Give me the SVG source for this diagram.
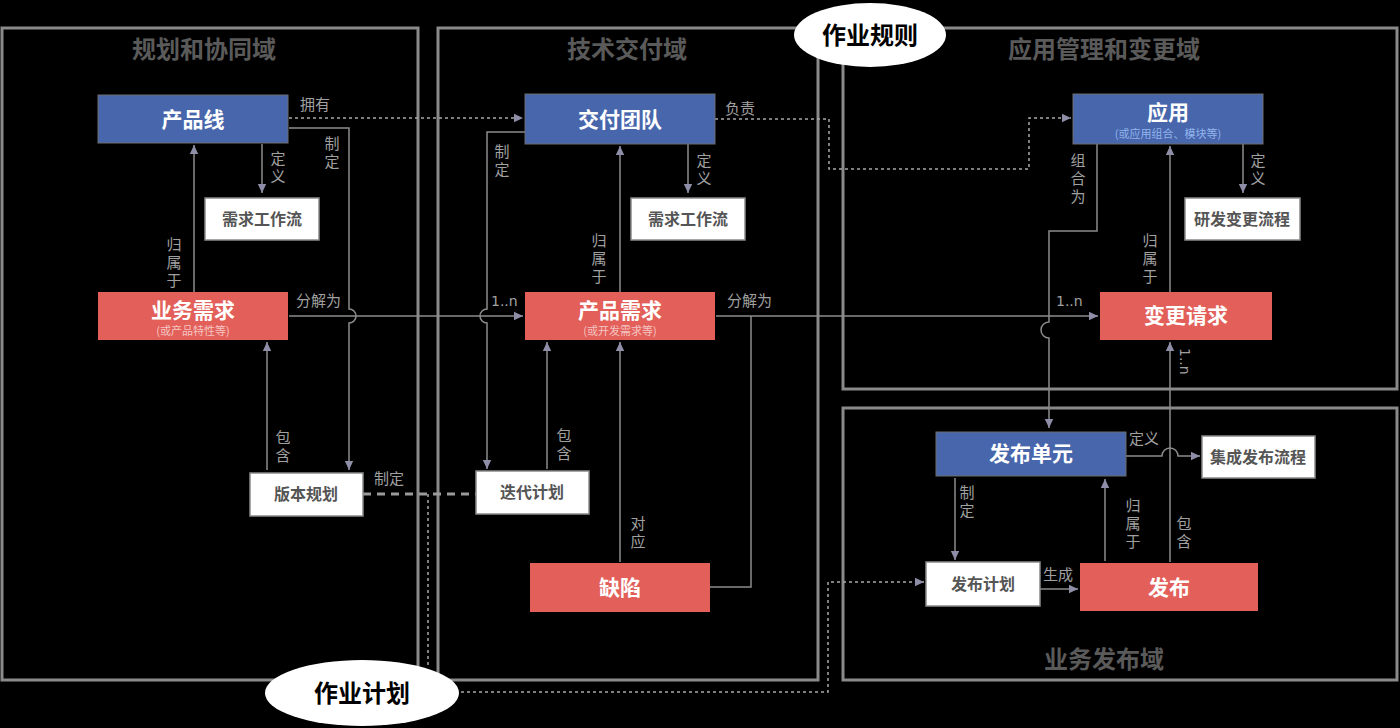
<svg xmlns="http://www.w3.org/2000/svg" width="1400" height="728" viewBox="0 0 1400 728">
<style>
text{font-family:"Noto Sans CJK SC","Noto Sans",sans-serif}
.dom{fill:none;stroke:#8a8a8a;stroke-width:3}
.dt{fill:#5a5a5a;font-size:24px;font-weight:700;text-anchor:middle}
.blue{fill:#4766ab;stroke:#6d6d6d;stroke-width:1}
.red{fill:#e25f5a;stroke:none}
.wb{fill:#fff;stroke:#8a8a8a;stroke-width:1.5}
.nt{fill:#fff;font-size:21px;font-weight:700;text-anchor:middle}
.wt{fill:#555;font-size:16px;font-weight:700;text-anchor:middle}
.sub{font-size:11px;text-anchor:middle}
.lb{fill:#a0a0a0;font-size:15px}
.v{writing-mode:vertical-rl;letter-spacing:3px}
.c{fill:none;stroke:#8c8c8c;stroke-width:1.5}
.dot{fill:none;stroke:#a8a8a8;stroke-width:1.5;stroke-dasharray:3 3}
.ell{fill:#fff;stroke:none}
.et{fill:#000;font-size:24px;font-weight:700;text-anchor:middle}
</style>
<defs>
<marker id="a" markerUnits="userSpaceOnUse" markerWidth="10" markerHeight="10" refX="9" refY="5" orient="auto">
<path d="M0,0.8 L9,5 L0,9.2 Z" fill="#8e8ea8"/>
</marker>
</defs>
<rect width="1400" height="728" fill="#000"/>

<g id="domains">
<rect class="dom" x="2" y="28" width="416" height="652"/>
<text class="dt" x="204" y="58">规划和协同域</text>
<rect class="dom" x="438" y="28" width="380" height="652"/>
<text class="dt" x="627" y="58">技术交付域</text>
<rect class="dom" x="843" y="28" width="554" height="361"/>
<text class="dt" x="1104" y="58">应用管理和变更域</text>
<rect class="dom" x="843" y="408" width="554" height="272"/>
<text class="dt" x="1104" y="668">业务发布域</text>
</g>

<g id="connectors">
<path class="c" d="M262,144 V193" marker-end="url(#a)"/>
<path class="c" d="M194,292 V145" marker-end="url(#a)"/>
<path class="c" d="M289,128 H349 V309 A7,7 0 0 1 349,323 V470" marker-end="url(#a)"/>
<path class="c" d="M267,470 V342" marker-end="url(#a)"/>
<path class="c" d="M289,316 H523" marker-end="url(#a)"/>
<path class="c" d="M525,132 H487 V309 A7,7 0 0 0 487,323 V469" marker-end="url(#a)"/>
<path class="c" d="M620,292 V146" marker-end="url(#a)"/>
<path class="c" d="M688,144 V193" marker-end="url(#a)"/>
<path class="c" d="M547,469 V342" marker-end="url(#a)"/>
<path class="c" d="M620,562 V342" marker-end="url(#a)"/>
<path class="c" d="M716,316 H1098" marker-end="url(#a)"/>
<path class="c" d="M710,587 H751 V316"/>
<path class="c" d="M1097,144 V231 H1049 V322 A8,8 0 0 0 1049,338 V428" marker-end="url(#a)"/>
<path class="c" d="M1243,144 V193" marker-end="url(#a)"/>
<path class="c" d="M1170,292 V146" marker-end="url(#a)"/>
<path class="c" d="M1170,562 V342" marker-end="url(#a)"/>
<path class="c" d="M1126,456 H1162 A8,8 0 0 1 1178,456 H1200" marker-end="url(#a)"/>
<path class="c" d="M955,478 V560" marker-end="url(#a)"/>
<path class="c" d="M1105,561 V479" marker-end="url(#a)"/>
<path class="c" d="M1040,589 H1078" marker-end="url(#a)"/>
<path class="dot" d="M289,118 H523" marker-end="url(#a)"/>
<path class="dot" d="M715,119 H829 V169 H1029 V118 H1071" marker-end="url(#a)"/>
<path d="M363,494 H476" fill="none" stroke="#9a9a9a" stroke-width="3" stroke-dasharray="8 6"/>
<path class="dot" d="M428,494 V668"/>
<path class="dot" d="M455,692 H828 V582 H924" marker-end="url(#a)"/>
<path d="M525,137 L682,94" stroke="#111" stroke-width="1.5" stroke-dasharray="4 3" fill="none"/>
<path d="M1100,308 L1125,339" stroke="#111" stroke-width="1.5" stroke-dasharray="3 3" fill="none"/>
<text class="lb" x="300" y="110">拥有</text>
<text class="lb" x="725" y="114">负责</text>
<text class="lb v" x="278" y="151">定义</text>
<text class="lb v" x="332" y="136">制定</text>
<text class="lb v" x="174" y="237">归属于</text>
<text class="lb v" x="283" y="430">包含</text>
<text class="lb" x="296" y="306">分解为</text>
<text class="lb" x="374" y="484">制定</text>
<text class="lb v" x="502" y="144">制定</text>
<text class="lb v" x="599" y="233">归属于</text>
<text class="lb v" x="704" y="153">定义</text>
<text class="lb" x="491" y="306" style="font-family:'DejaVu Sans',sans-serif;font-size:14px">1..n</text>
<text class="lb" x="727" y="306">分解为</text>
<text class="lb v" x="564" y="428">包含</text>
<text class="lb v" x="638" y="516">对应</text>
<text class="lb v" x="1078" y="153">组合为</text>
<text class="lb v" x="1258" y="153">定义</text>
<text class="lb v" x="1150" y="233">归属于</text>
<text class="lb" x="1056" y="306" style="font-family:'DejaVu Sans',sans-serif;font-size:14px">1..n</text>
<text class="lb" transform="translate(1180,348) rotate(90)" style="font-family:'DejaVu Sans',sans-serif;font-size:14px">1..n</text>
<text class="lb" x="1129" y="444">定义</text>
<text class="lb v" x="967" y="485">制定</text>
<text class="lb v" x="1133" y="498">归属于</text>
<text class="lb v" x="1184" y="516">包含</text>
<text class="lb" x="1043" y="580">生成</text>
</g>

<g id="n-chanpinxian"><rect class="blue" x="98" y="95" width="190" height="48"/><text class="nt" x="193" y="127">产品线</text></g>
<g id="n-xqgzl1"><rect class="wb" x="205" y="198" width="114" height="42"/><text class="wt" x="262" y="225">需求工作流</text></g>
<g id="n-ywxq"><rect class="red" x="98" y="292" width="190" height="48"/><text class="nt" x="193" y="318">业务需求</text><text class="sub" x="193" y="335" fill="#f6c6c3">(或产品特性等)</text></g>
<g id="n-bbgh"><rect class="wb" x="250" y="473" width="113" height="43"/><text class="wt" x="306" y="500">版本规划</text></g>

<g id="n-jftd"><rect class="blue" x="525" y="94" width="190" height="50"/><text class="nt" x="620" y="127">交付团队</text></g>
<g id="n-xqgzl2"><rect class="wb" x="631" y="198" width="114" height="42"/><text class="wt" x="688" y="225">需求工作流</text></g>
<g id="n-cpxq"><rect class="red" x="525" y="292" width="190" height="48"/><text class="nt" x="620" y="318">产品需求</text><text class="sub" x="620" y="335" fill="#f6c6c3">(或开发需求等)</text></g>
<g id="n-ddjh"><rect class="wb" x="476" y="471" width="113" height="43"/><text class="wt" x="532" y="498">迭代计划</text></g>
<g id="n-qx"><rect class="red" x="530" y="563" width="180" height="49"/><text class="nt" x="620" y="595">缺陷</text></g>

<g id="n-yy"><rect class="blue" x="1073" y="94" width="190" height="50"/><text class="nt" x="1168" y="120">应用</text><text class="sub" x="1168" y="138" fill="#93b4ee">(或应用组合、模块等)</text></g>
<g id="n-yfbglc"><rect class="wb" x="1185" y="198" width="115" height="42"/><text class="wt" x="1242" y="225">研发变更流程</text></g>
<g id="n-bgqq"><rect class="red" x="1100" y="292" width="172" height="48"/><text class="nt" x="1186" y="323">变更请求</text></g>

<g id="n-fbdy"><rect class="blue" x="936" y="432" width="190" height="44"/><text class="nt" x="1031" y="461">发布单元</text></g>
<g id="n-jcfblc"><rect class="wb" x="1202" y="436" width="113" height="42"/><text class="wt" x="1258" y="463">集成发布流程</text></g>
<g id="n-fbjh"><rect class="wb" x="926" y="562" width="114" height="44"/><text class="wt" x="983" y="590">发布计划</text></g>
<g id="n-fb"><rect class="red" x="1080" y="563" width="178" height="48"/><text class="nt" x="1169" y="595">发布</text></g>

<g id="n-zygz"><ellipse class="ell" cx="870" cy="35" rx="76" ry="32"/><text class="et" x="870" y="44">作业规则</text></g>
<g id="n-zyjh"><ellipse class="ell" cx="362" cy="693" rx="97" ry="33"/><text class="et" x="362" y="702">作业计划</text></g>
</svg>
